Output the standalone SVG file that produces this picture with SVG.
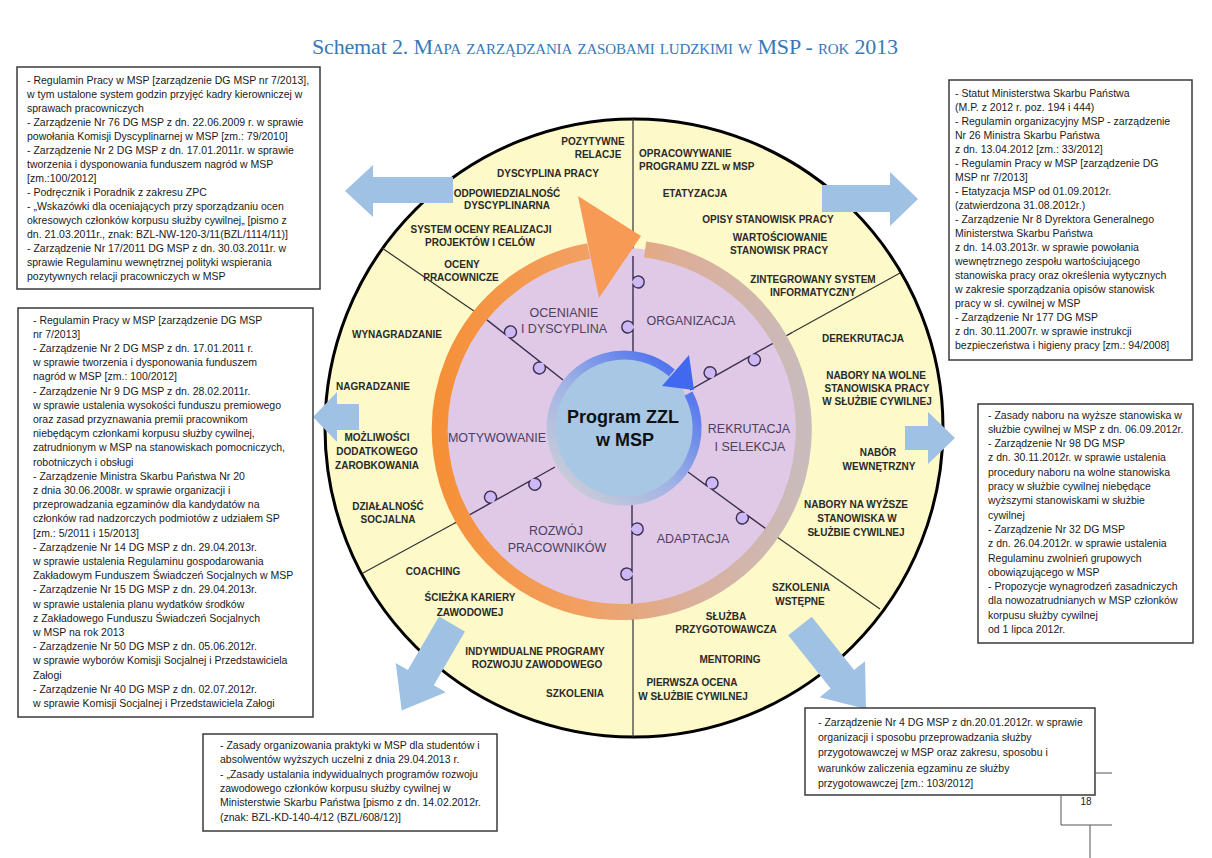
<svg xmlns="http://www.w3.org/2000/svg" width="1212" height="858" viewBox="0 0 1212 858">
<defs>
<style>
.box{fill:#fff;stroke:#3a3a3a;stroke-width:1.5}
.bt{font-family:"Liberation Sans",Arial,sans-serif;font-size:10.5px;fill:#1a1a1a}
.ol{font-family:"Liberation Sans",Arial,sans-serif;font-size:10px;font-weight:bold;fill:#2a2a2a;text-anchor:middle}
.ols{font-family:"Liberation Sans",Arial,sans-serif;font-size:10px;font-weight:bold;fill:#2a2a2a;text-anchor:start}
.il{font-family:"Liberation Sans",Arial,sans-serif;font-size:12.5px;fill:#4d4060;text-anchor:middle}
.spoke{stroke:#333;stroke-width:1.2;fill:none}
.pz{stroke:#3b2f4f;stroke-width:1.4;fill:none}
.knob{fill:#cdb8f5;stroke:none}
.arr{fill:#9fc1e3}
</style>
<linearGradient id="ringGrad" gradientUnits="userSpaceOnUse" x1="432" y1="430" x2="812" y2="430">
<stop offset="0" stop-color="#f68f35"/>
<stop offset="0.4" stop-color="#f2a062"/>
<stop offset="0.65" stop-color="#dcae97"/>
<stop offset="1" stop-color="#c8bcbf"/>
</linearGradient>
<linearGradient id="blueGrad" gradientUnits="userSpaceOnUse" x1="560" y1="495" x2="690" y2="360">
<stop offset="0" stop-color="#d0d0d6"/>
<stop offset="0.45" stop-color="#9fb3e4"/>
<stop offset="1" stop-color="#3f66f0"/>
</linearGradient>
<g id="knobs"><circle class="knob" cx="26" cy="-5.2" r="6"/><circle class="knob" cx="71" cy="5.2" r="6"/></g>
</defs>

<rect width="1212" height="858" fill="#fff"/>

<g id="title">
<text x="312" y="54" font-family="Liberation Serif, serif" font-size="22" fill="#3a78b5" textLength="586" lengthAdjust="spacing">Schemat 2. <tspan font-variant="small-caps">Mapa zarządzania zasobami ludzkimi w</tspan> MSP - <tspan font-variant="small-caps">rok</tspan> 2013</text>
</g>

<g id="wheel">
<circle cx="634" cy="428" r="309" fill="#fdf9c8" stroke="#000" stroke-width="3"/>
<g id="outer-spokes">
<line class="spoke" x1="633" y1="119" x2="633" y2="256"/>
<line class="spoke" x1="382" y1="248" x2="487" y2="320"/>
<line class="spoke" x1="900" y1="273" x2="793" y2="332"/>
<line class="spoke" x1="777" y1="537" x2="880" y2="609"/>
<line class="spoke" x1="633" y1="610" x2="633" y2="737"/>
<line class="spoke" x1="455" y1="523" x2="363" y2="573"/>
</g>
<circle cx="622" cy="430" r="182" fill="#e0c9e6"/>
<g id="puzzle-lines">
<g transform="translate(633,256) rotate(90)"><use href="#knobs"/><path class="pz" d="M0,0 H23 A6 6 0 1 1 29,0 H68 A6 6 0 1 0 74,0 H96"/></g>
<g transform="translate(690,390) rotate(-29.4)"><use href="#knobs"/><path class="pz" d="M0,0 H23 A6 6 0 1 1 29,0 H68 A6 6 0 1 0 74,0 H118"/></g>
<g transform="translate(688,472) rotate(36.1)"><use href="#knobs"/><path class="pz" d="M0,0 H23 A6 6 0 1 1 29,0 H68 A6 6 0 1 0 74,0 H110"/></g>
<g transform="translate(632,503) rotate(90)"><use href="#knobs"/><path class="pz" d="M0,0 H23 A6 6 0 1 1 29,0 H68 A6 6 0 1 0 74,0 H117"/></g>
<g transform="translate(555,467) rotate(150.75)"><use href="#knobs"/><path class="pz" d="M0,0 H23 A6 6 0 1 1 29,0 H68 A6 6 0 1 0 74,0 H115"/></g>
<g transform="translate(563,380) rotate(218.3)"><use href="#knobs"/><path class="pz" d="M0,0 H23 A6 6 0 1 1 29,0 H68 A6 6 0 1 0 74,0 H97"/></g>
</g>
<path d="M588.8,251 A182 182 0 1 0 645.1,249.5" fill="none" stroke="url(#ringGrad)" stroke-width="16"/>
<polygon points="578,196 599,298 641,236" fill="#f69a55"/>
<circle cx="624" cy="428" r="70" fill="#a8c7e5"/>
<path d="M671.9,372.9 A73 73 0 1 0 688.5,393.7" fill="none" stroke="url(#blueGrad)" stroke-width="9"/>
<polygon points="662,386 689,355 694,390" fill="#4169f0"/>
</g>

<g id="connectors">
<polygon class="arr" points="453,177 373,177 373,165 345,191 373,217 373,203 453,203"/>
<polygon class="arr" points="822,185 890,185 890,172 918,199 890,226 890,212 822,212"/>
<polygon class="arr" points="359,404 337,404 337,392 313,417 337,442 337,430 359,430"/>
<polygon class="arr" points="905,426 928,426 928,412 955,438 928,464 928,450 905,450"/>
<path class="arr" transform="translate(452,624) rotate(120.2)" d="M0,-15 H62 V-29 L100,0 L62,29 V15 H0 Z"/>
<path class="arr" transform="translate(800,626) rotate(51.5)" d="M0,-15 H68 V-29 L106,0 L68,29 V15 H0 Z"/>
</g>

<g id="center-node">
<text x="623" y="423" font-family="Liberation Sans, Arial, sans-serif" font-size="18" font-weight="bold" fill="#111" text-anchor="middle">Program ZZL</text>
<text x="625" y="446" font-family="Liberation Sans, Arial, sans-serif" font-size="18" font-weight="bold" fill="#111" text-anchor="middle">w MSP</text>
</g>

<g id="inner-labels">
<text class="il" x="564" y="317">OCENIANIE</text>
<text class="il" x="564" y="333">I DYSCYPLINA</text>
<text class="il" x="691" y="325">ORGANIZACJA</text>
<text class="il" x="497" y="442">MOTYWOWANIE</text>
<text class="il" x="749" y="433">REKRUTACJA</text>
<text class="il" x="750" y="451">I SELEKCJA</text>
<text class="il" x="556" y="535">ROZWÓJ</text>
<text class="il" x="557" y="552">PRACOWNIKÓW</text>
<text class="il" x="693" y="543">ADAPTACJA</text>
</g>

<g id="sector-oceniane">
<text class="ol" x="593" y="145">POZYTYWNE</text>
<text class="ol" x="598" y="158">RELACJE</text>
<text class="ol" x="548" y="177">DYSCYPLINA PRACY</text>
<text class="ol" x="507" y="197">ODPOWIEDZIALNOŚĆ</text>
<text class="ol" x="507" y="209">DYSCYPLINARNA</text>
<text class="ol" x="481" y="233">SYSTEM OCENY REALIZACJI</text>
<text class="ol" x="480" y="246">PROJEKTÓW I CELÓW</text>
<text class="ol" x="462" y="268">OCENY</text>
<text class="ol" x="461" y="281">PRACOWNICZE</text>
</g>
<g id="sector-motywowanie">
<text class="ol" x="397" y="338">WYNAGRADZANIE</text>
<text class="ol" x="373" y="390">NAGRADZANIE</text>
<text class="ol" x="377" y="441">MOŻLIWOŚCI</text>
<text class="ol" x="377" y="455">DODATKOWEGO</text>
<text class="ol" x="377" y="469">ZAROBKOWANIA</text>
<text class="ol" x="388" y="510">DZIAŁALNOŚĆ</text>
<text class="ol" x="388" y="523">SOCJALNA</text>
</g>
<g id="sector-rozwoj">
<text class="ol" x="433" y="575">COACHING</text>
<text class="ol" x="470" y="601">ŚCIEŻKA KARIERY</text>
<text class="ol" x="470" y="616">ZAWODOWEJ</text>
<text class="ol" x="535" y="655">INDYWIDUALNE PROGRAMY</text>
<text class="ol" x="537" y="668">ROZWOJU ZAWODOWEGO</text>
<text class="ol" x="575" y="697">SZKOLENIA</text>
</g>
<g id="sector-organizacja">
<text class="ols" x="639" y="157">OPRACOWYWANIE</text>
<text class="ols" x="639" y="170">PROGRAMU ZZL w MSP</text>
<text class="ol" x="695" y="197">ETATYZACJA</text>
<text class="ol" x="768" y="223">OPISY STANOWISK PRACY</text>
<text class="ol" x="780" y="241">WARTOŚCIOWANIE</text>
<text class="ol" x="779" y="254">STANOWISK PRACY</text>
<text class="ol" x="813" y="283">ZINTEGROWANY SYSTEM</text>
<text class="ol" x="813" y="296">INFORMATYCZNY</text>
</g>
<g id="sector-rekrutacja">
<text class="ol" x="863" y="342">DEREKRUTACJA</text>
<text class="ol" x="876" y="379">NABORY NA WOLNE</text>
<text class="ol" x="877" y="392">STANOWISKA PRACY</text>
<text class="ol" x="877" y="405">W SŁUŻBIE CYWILNEJ</text>
<text class="ol" x="878" y="456">NABÓR</text>
<text class="ol" x="879" y="470">WEWNĘTRZNY</text>
<text class="ol" x="856" y="508">NABORY NA WYŻSZE</text>
<text class="ol" x="857" y="522">STANOWISKA W</text>
<text class="ol" x="856" y="536">SŁUŻBIE CYWILNEJ</text>
</g>
<g id="sector-adaptacja">
<text class="ol" x="801" y="591">SZKOLENIA</text>
<text class="ol" x="800" y="605">WSTĘPNE</text>
<text class="ol" x="726" y="620">SŁUŻBA</text>
<text class="ol" x="726" y="633">PRZYGOTOWAWCZA</text>
<text class="ol" x="730" y="663">MENTORING</text>
<text class="ol" x="692" y="686">PIERWSZA OCENA</text>
<text class="ol" x="693" y="700">W SŁUŻBIE CYWILNEJ</text>
</g>

<g id="box-top-left">
<rect class="box" x="17" y="67" width="303" height="222"/>
<text class="bt">
<tspan x="27" y="84">- Regulamin Pracy w  MSP [zarządzenie DG MSP nr 7/2013],</tspan>
<tspan x="27" y="98">w tym ustalone system godzin przyjęć kadry kierowniczej w</tspan>
<tspan x="27" y="112">sprawach pracowniczych</tspan>
<tspan x="27" y="126">- Zarządzenie Nr 76 DG MSP z dn. 22.06.2009 r. w sprawie</tspan>
<tspan x="27" y="140">powołania Komisji Dyscyplinarnej w MSP [zm.: 79/2010]</tspan>
<tspan x="27" y="154">- Zarządzenie Nr 2 DG MSP z dn. 17.01.2011r. w sprawie</tspan>
<tspan x="27" y="168">tworzenia i dysponowania funduszem nagród w MSP</tspan>
<tspan x="27" y="182">[zm.:100/2012]</tspan>
<tspan x="27" y="196">- Podręcznik i Poradnik z zakresu ZPC</tspan>
<tspan x="27" y="210">- „Wskazówki dla oceniających przy sporządzaniu ocen</tspan>
<tspan x="27" y="224">okresowych członków korpusu służby cywilnej„ [pismo z</tspan>
<tspan x="27" y="238">dn. 21.03.2011r., znak: BZL-NW-120-3/11(BZL/1114/11)]</tspan>
<tspan x="27" y="252">- Zarządzenie Nr 17/2011 DG MSP z dn. 30.03.2011r. w</tspan>
<tspan x="27" y="266">sprawie Regulaminu wewnętrznej polityki wspierania</tspan>
<tspan x="27" y="280">pozytywnych relacji pracowniczych w MSP</tspan>
</text>
</g>

<g id="box-top-right">
<rect class="box" x="949" y="80" width="243" height="280"/>
<text class="bt">
<tspan x="955" y="96.5">- Statut Ministerstwa Skarbu Państwa</tspan>
<tspan x="955" y="110.5">(M.P. z 2012 r. poz. 194 i 444)</tspan>
<tspan x="955" y="124.5">- Regulamin organizacyjny MSP - zarządzenie</tspan>
<tspan x="955" y="138.5">Nr 26 Ministra Skarbu Państwa</tspan>
<tspan x="955" y="152.5">z dn. 13.04.2012 [zm.: 33/2012]</tspan>
<tspan x="955" y="166.5">- Regulamin Pracy w  MSP [zarządzenie DG</tspan>
<tspan x="955" y="180.5">MSP nr 7/2013]</tspan>
<tspan x="955" y="194.5">- Etatyzacja MSP od 01.09.2012r.</tspan>
<tspan x="955" y="208.5">(zatwierdzona 31.08.2012r.)</tspan>
<tspan x="955" y="222.5">- Zarządzenie Nr 8 Dyrektora Generalnego</tspan>
<tspan x="955" y="236.5">Ministerstwa Skarbu Państwa</tspan>
<tspan x="955" y="250.5">z dn. 14.03.2013r. w sprawie powołania</tspan>
<tspan x="955" y="264.5">wewnętrznego zespołu wartościującego</tspan>
<tspan x="955" y="278.5">stanowiska pracy oraz określenia wytycznych</tspan>
<tspan x="955" y="292.5">w zakresie sporządzania opisów stanowisk</tspan>
<tspan x="955" y="306.5">pracy w sł. cywilnej w MSP</tspan>
<tspan x="955" y="320.5">- Zarządzenie Nr 177 DG MSP</tspan>
<tspan x="955" y="334.5">z dn. 30.11.2007r. w sprawie instrukcji</tspan>
<tspan x="955" y="348.5">bezpieczeństwa i higieny pracy [zm.: 94/2008]</tspan>
</text>
</g>

<g id="box-left">
<rect class="box" x="18" y="308" width="295" height="409"/>
<text class="bt">
<tspan x="33" y="323.5">- Regulamin Pracy w  MSP [zarządzenie DG MSP</tspan>
<tspan x="33" y="337.7">nr 7/2013]</tspan>
<tspan x="33" y="351.9">- Zarządzenie Nr 2 DG MSP z dn. 17.01.2011 r.</tspan>
<tspan x="33" y="366.1">w sprawie tworzenia i  dysponowania funduszem</tspan>
<tspan x="33" y="380.3">nagród w MSP [zm.: 100/2012]</tspan>
<tspan x="33" y="394.5">- Zarządzenie Nr 9 DG MSP z dn. 28.02.2011r.</tspan>
<tspan x="33" y="408.7">w sprawie ustalenia  wysokości funduszu premiowego</tspan>
<tspan x="33" y="422.9">oraz zasad przyznawania premii pracownikom</tspan>
<tspan x="33" y="437.1">niebędącym członkami korpusu służby cywilnej,</tspan>
<tspan x="33" y="451.3">zatrudnionym w MSP na stanowiskach pomocniczych,</tspan>
<tspan x="33" y="465.5">robotniczych i obsługi</tspan>
<tspan x="33" y="479.7">- Zarządzenie Ministra Skarbu Państwa Nr 20</tspan>
<tspan x="33" y="493.9">z dnia 30.06.2008r. w sprawie organizacji i</tspan>
<tspan x="33" y="508.1">przeprowadzania egzaminów dla kandydatów na</tspan>
<tspan x="33" y="522.3">członków rad nadzorczych podmiotów z udziałem SP</tspan>
<tspan x="33" y="536.5">[zm.: 5/2011 i 15/2013]</tspan>
<tspan x="33" y="550.7">- Zarządzenie Nr 14 DG MSP z dn. 29.04.2013r.</tspan>
<tspan x="33" y="564.9">w sprawie ustalenia Regulaminu gospodarowania</tspan>
<tspan x="33" y="579.1">Zakładowym Funduszem Świadczeń Socjalnych w MSP</tspan>
<tspan x="33" y="593.3">- Zarządzenie Nr 15 DG MSP z dn. 29.04.2013r.</tspan>
<tspan x="33" y="607.5">w sprawie ustalenia planu wydatków środków</tspan>
<tspan x="33" y="621.7">z Zakładowego Funduszu Świadczeń Socjalnych</tspan>
<tspan x="33" y="635.9">w MSP na rok 2013</tspan>
<tspan x="33" y="650.1">- Zarządzenie Nr 50 DG MSP z dn. 05.06.2012r.</tspan>
<tspan x="33" y="664.3">w sprawie wyborów Komisji Socjalnej i Przedstawiciela</tspan>
<tspan x="33" y="678.5">Załogi</tspan>
<tspan x="33" y="692.7">- Zarządzenie Nr 40 DG MSP z dn. 02.07.2012r.</tspan>
<tspan x="33" y="706.9">w sprawie Komisji Socjalnej i Przedstawiciela Załogi</tspan>
</text>
</g>

<g id="box-right">
<rect class="box" x="978" y="404" width="215" height="239"/>
<text class="bt">
<tspan x="988" y="418.5">- Zasady naboru na wyższe stanowiska w</tspan>
<tspan x="988" y="432.8">służbie cywilnej w MSP z dn. 06.09.2012r.</tspan>
<tspan x="988" y="447.1">- Zarządzenie Nr 98 DG MSP</tspan>
<tspan x="988" y="461.4">z dn. 30.11.2012r.  w sprawie ustalenia</tspan>
<tspan x="988" y="475.7">procedury naboru na wolne stanowiska</tspan>
<tspan x="988" y="490">pracy w służbie cywilnej niebędące</tspan>
<tspan x="988" y="504.3">wyższymi stanowiskami w służbie</tspan>
<tspan x="988" y="518.6">cywilnej</tspan>
<tspan x="988" y="532.9">- Zarządzenie Nr 32 DG MSP</tspan>
<tspan x="988" y="547.2">z dn. 26.04.2012r. w sprawie ustalenia</tspan>
<tspan x="988" y="561.5">Regulaminu zwolnień grupowych</tspan>
<tspan x="988" y="575.8">obowiązującego w MSP</tspan>
<tspan x="988" y="590.1">- Propozycje wynagrodzeń zasadniczych</tspan>
<tspan x="988" y="604.4">dla nowozatrudnianych w MSP członków</tspan>
<tspan x="988" y="618.7">korpusu służby cywilnej</tspan>
<tspan x="988" y="633">od 1 lipca 2012r.</tspan>
</text>
</g>

<g id="box-bottom-left">
<rect class="box" x="203" y="734" width="294" height="97"/>
<text class="bt">
<tspan x="220" y="749">- Zasady organizowania praktyki w  MSP dla studentów i</tspan>
<tspan x="220" y="763.3">absolwentów  wyższych uczelni z dnia 29.04.2013 r.</tspan>
<tspan x="220" y="777.6">- „Zasady ustalania indywidualnych programów rozwoju</tspan>
<tspan x="220" y="791.9">zawodowego członków korpusu służby cywilnej w</tspan>
<tspan x="220" y="806.2">Ministerstwie Skarbu Państwa [pismo z dn. 14.02.2012r.</tspan>
<tspan x="220" y="820.5">(znak: BZL-KD-140-4/12 (BZL/608/12)]</tspan>
</text>
</g>

<g id="box-bottom-right">
<rect class="box" x="805" y="708" width="290" height="87"/>
<text class="bt">
<tspan x="818" y="726">- Zarządzenie Nr 4 DG MSP z dn.20.01.2012r. w sprawie</tspan>
<tspan x="818" y="741.2">organizacji i sposobu przeprowadzania służby</tspan>
<tspan x="818" y="756.4">przygotowawczej w MSP oraz zakresu, sposobu i</tspan>
<tspan x="818" y="771.6">warunków zaliczenia egzaminu ze służby</tspan>
<tspan x="818" y="786.8">przygotowawczej [zm.: 103/2012]</tspan>
</text>
</g>

<g id="page-number">
<path d="M1095,773 H1112 M1061,795 V825 H1112 M1090,825 V858" fill="none" stroke="#555" stroke-width="1"/>
<text x="1086" y="805" font-family="Liberation Sans, Arial, sans-serif" font-size="10" fill="#222" text-anchor="middle">18</text>
</g>
</svg>
